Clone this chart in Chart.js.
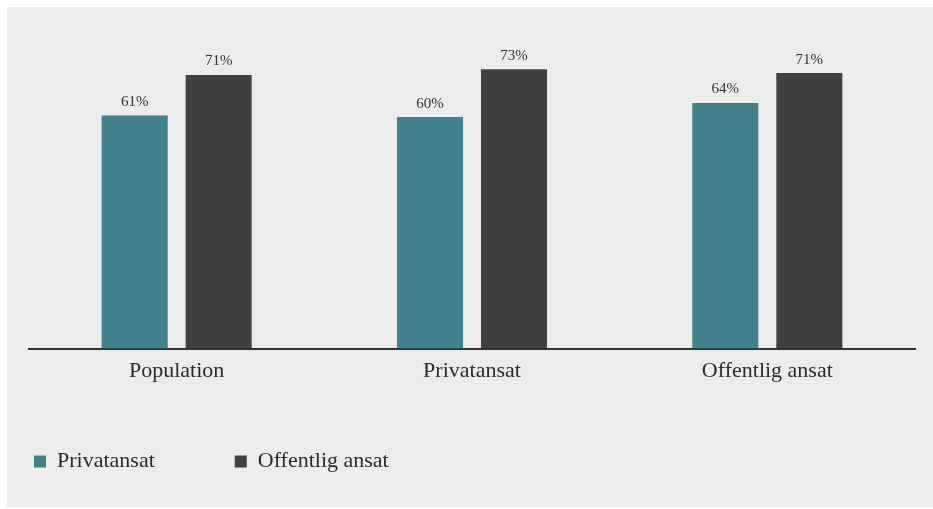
<!DOCTYPE html>
<html><head><meta charset="utf-8">
<script src="https://cdn.jsdelivr.net/npm/chart.js@4/dist/chart.umd.min.js"></script>
<style>html,body{margin:0;padding:0;background:#fff;overflow:hidden;} #wrap{position:relative;width:933px;height:509px;}</style>
</head><body><div id="wrap"><canvas id="c" width="933" height="509"></canvas></div>
<script>
// ---- data ----
const categories = ['Population', 'Privatansat', 'Offentlig ansat'];
const seriesNames = ['Privatansat', 'Offentlig ansat'];
const privatValues = [60.8, 60.4, 64.1];
const offentligValues = [71.4, 72.9, 71.9];
const privatLabels = ['61%', '60%', '64%'];
const offentligLabels = ['71%', '73%', '71%'];

const FONT = "'Liberation Serif', 'Times New Roman', serif";
const TEAL = '#40818c';
const DARK = '#404040';

const panelBg = {
  id: 'panelBg',
  beforeDraw(chart) {
    const ctx = chart.ctx;
    ctx.save();
    ctx.fillStyle = '#ffffff';
    ctx.fillRect(0, 0, chart.width, chart.height);
    ctx.fillStyle = '#ececec';
    ctx.fillRect(7, 7, chart.width - 7, 500);
    ctx.restore();
  }
};

const legendPlace = {
  id: 'legendPlace',
  beforeLayout(chart) {
    const lg = chart.legend;
    if (lg && !lg._fitWrapped) {
      const orig = lg.fit;
      lg.fit = function () { orig.call(this); this.height = 100; };
      lg._fitWrapped = true;
    }
  },
  afterLayout(chart) {
    const lg = chart.legend;
    if (!lg) return;
    const pad = lg.options.labels.padding;
    lg.top = 450.5 - pad;
    lg.bottom = chart.height;
    lg.left = 34 - pad;
  }
};

const dataLabels = {
  id: 'dataLabels',
  afterDatasetsDraw(chart) {
    const ctx = chart.ctx;
    const labelSets = [privatLabels, offentligLabels];
    ctx.save();
    ctx.font = '15px ' + FONT;
    ctx.fillStyle = '#333333';
    ctx.textAlign = 'center';
    ctx.textBaseline = 'alphabetic';
    chart.data.datasets.forEach((ds, di) => {
      const meta = chart.getDatasetMeta(di);
      meta.data.forEach((bar, i) => {
        ctx.fillText(labelSets[di][i], bar.x, bar.y - 9.5);
      });
    });
    ctx.restore();
  }
};

new Chart(document.getElementById('c'), {
  type: 'bar',
  data: {
    labels: categories,
    datasets: [
      { label: seriesNames[0], data: privatValues, backgroundColor: TEAL,
        barPercentage: 0.786, categoryPercentage: 0.569 },
      { label: seriesNames[1], data: offentligValues, backgroundColor: DARK,
        barPercentage: 0.786, categoryPercentage: 0.569 }
    ]
  },
  options: {
    responsive: false,
    devicePixelRatio: 1,
    animation: false,
    layout: { padding: { top: 42, left: 29, right: 18, bottom: 16 } },
    scales: {
      x: {
        grid: { display: false, drawTicks: false },
        border: { display: true, color: '#333333', width: 2 },
        ticks: { font: { family: FONT, size: 22 }, color: '#2b2b2b', padding: 9 }
      },
      y: { display: false, min: 0, max: 80 }
    },
    plugins: {
      legend: {
        position: 'bottom',
        align: 'start',
        labels: {
          boxWidth: 12, boxHeight: 12, padding: 80,
          font: { family: FONT, size: 22 }, color: '#2b2b2b'
        }
      },
      tooltip: { enabled: false }
    }
  },
  plugins: [panelBg, legendPlace, dataLabels]
});
</script>
</body></html>
